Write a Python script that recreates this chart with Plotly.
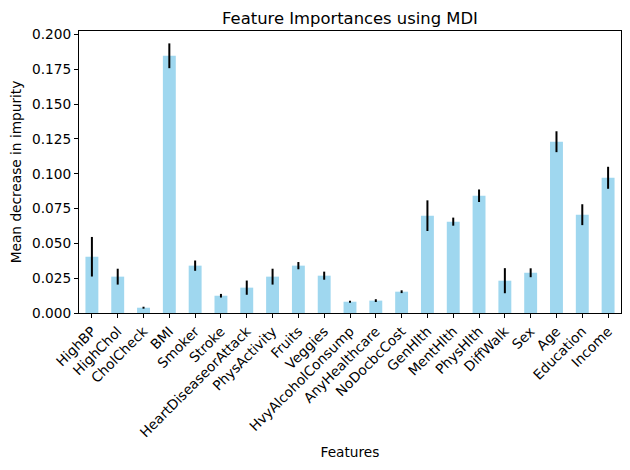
import plotly.graph_objects as go

features = [
    "HighBP", "HighChol", "CholCheck", "BMI", "Smoker", "Stroke",
    "HeartDiseaseorAttack", "PhysActivity", "Fruits", "Veggies",
    "HvyAlcoholConsump", "AnyHealthcare", "NoDocbcCost", "GenHlth",
    "MentHlth", "PhysHlth", "DiffWalk", "Sex", "Age", "Education", "Income",
]
importances = [
    0.0404, 0.0261, 0.0038, 0.1847, 0.0340, 0.0124, 0.0182, 0.0261,
    0.0340, 0.0268, 0.0081, 0.0089, 0.0153, 0.0699, 0.0656, 0.0842,
    0.0232, 0.0289, 0.1230, 0.0706, 0.0971,
]
std = [
    0.0142, 0.0057, 0.0007, 0.0089, 0.0037, 0.0013, 0.0051, 0.0057,
    0.0026, 0.0029, 0.0007, 0.0010, 0.0010, 0.0110, 0.0029, 0.0045,
    0.0090, 0.0032, 0.0075, 0.0075, 0.0079,
]

font = "DejaVu Sans"
fs = 13.7

fig = go.Figure(
    go.Bar(
        x=list(range(len(features))),
        y=importances,
        width=0.5,
        marker=dict(color="rgb(159,215,239)", line_width=0),
        error_y=dict(type="data", array=std, color="black", thickness=2, width=0),
    )
)

# the page body adds an 8px offset, so margins are shifted to compensate
fig.update_layout(
    width=630,
    height=470,
    margin=dict(l=71, r=17, t=23, b=165),
    plot_bgcolor="white",
    paper_bgcolor="white",
    font=dict(family=font, size=fs, color="black"),
    title=dict(text="Feature Importances using MDI", x=0.5, xanchor="center",
               xref="paper", y=0.99, yanchor="top", font=dict(size=16.4)),
    showlegend=False,
)
fig.update_xaxes(
    range=[-0.5, len(features) - 0.5],
    tickvals=list(range(len(features))),
    ticktext=features,
    tickangle=-45,
    tickfont=dict(size=fs),
    ticks="outside",
    ticklen=4,
    tickcolor="black",
    showline=True,
    linecolor="black",
    mirror=True,
    showgrid=False,
    automargin=False,
    title=dict(text="Features", standoff=8, font=dict(size=fs)),
)
fig.update_yaxes(
    range=[0, 0.2025],
    dtick=0.025,
    tickformat=".3f",
    tickfont=dict(size=fs),
    ticks="outside",
    ticklen=4,
    tickcolor="black",
    showline=True,
    linecolor="black",
    mirror=True,
    showgrid=False,
    zeroline=False,
    automargin=False,
    title=dict(text="Mean decrease in impurity", standoff=8, font=dict(size=fs)),
)

fig.write_html("out.html")
